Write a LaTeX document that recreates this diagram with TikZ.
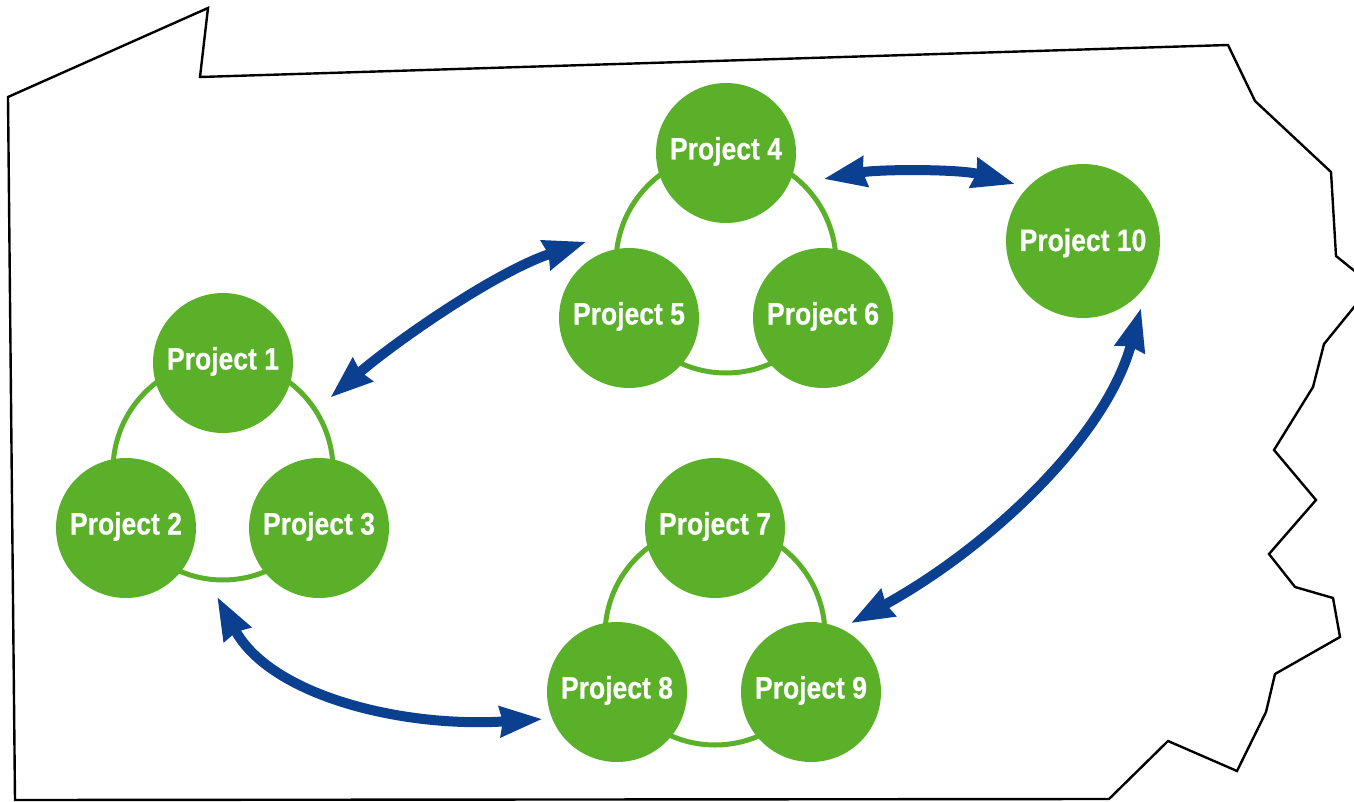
\documentclass[tikz,border=0pt]{standalone}
\usepackage{fontspec}
\setmainfont[FakeStretch=0.855,BoldFeatures={FakeBold=0.5}]{Liberation Sans}
\usetikzlibrary{arrows.meta}
\definecolor{projgreen}{HTML}{5BB02A}
\definecolor{linkblue}{HTML}{0B3F90}
\tikzset{
  x=1pt,y=-1pt,
  projnode/.style={circle,fill=projgreen,text=white,inner sep=0pt,
    font=\bfseries\fontsize{31}{31}\selectfont,
    outer sep=#1pt,minimum size=140pt,text height=13pt,text depth=0pt},
  bignode/.style={projnode=#1,minimum size=154pt,text height=20pt},
  ringnode/.style={circle,draw=projgreen,line width=5pt,minimum size=220pt,inner sep=0pt,fill=none},
  linkarrow/.style={draw=linkblue,line width=10pt,
    {Stealth[length=42pt,width=29pt,inset=2pt]}-{Stealth[length=42pt,width=29pt,inset=2pt]}},
  outline/.style={draw=black,line width=2.4pt,line join=miter}
}
\begin{document}
\begin{tikzpicture}
\useasboundingbox (0,0) rectangle (1354,802);
\clip (0,0) rectangle (1354,802);
\draw[outline] (8,97) -- (208,8) -- (200,77) -- (1228,45) -- (1255,101) -- (1331,172)
  -- (1336,256) -- (1372,285) -- (1324,344) -- (1313,387) -- (1274,450) -- (1316,500)
  -- (1269,554) -- (1295,587) -- (1333,598) -- (1340,637) -- (1275,674) -- (1266,712)
  -- (1237,771) -- (1168,741) -- (1109,799) -- (15,800) -- cycle;
\node[ringnode] (r1) at (223,470) {};
\node[ringnode] (r2) at (726,263) {};
\node[ringnode] (r3) at (715,635) {};
\node[projnode=42.6] (p1) at (223,363) {Project 1};
\node[projnode=44] (p2) at (126,528) {Project 2};
\node[projnode=0] (p3) at (319,528) {Project 3};
\node[projnode=30.7] (p4) at (726,153) {Project 4};
\node[projnode=17.3] (p5) at (629,318) {Project 5};
\node[projnode=0] (p6) at (823,318) {Project 6};
\node[projnode=0] (p7) at (715,528) {Project 7};
\node[projnode=9] (p8) at (617,692) {Project 8};
\node[projnode=9.3] (p9) at (811,692) {Project 9};
\node[bignode=11.5] (p10) at (1083,241) {Project 10};
\draw[linkarrow] (p1.-18.1) .. controls (395,342) and (495,272) .. (p5.119.5);
\draw[linkarrow] (p4.-15.6) .. controls (880,169) and (960,169) .. (p10.140);
\draw[linkarrow] (p9.60.5) .. controls (985,550) and (1105,440) .. (p10.-49.6);
\draw[linkarrow] (p2.-37.2) .. controls (270,695) and (400,728) .. (p8.200.7);
\end{tikzpicture}
\end{document}
